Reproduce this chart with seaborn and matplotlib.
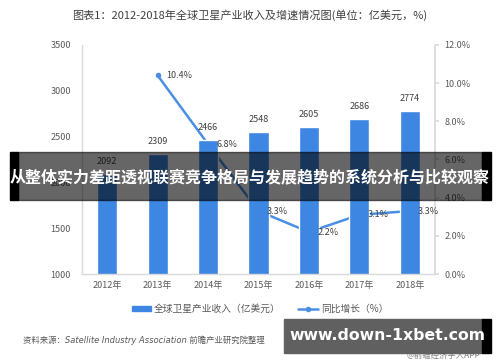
import numpy as np
import pandas as pd
import matplotlib
matplotlib.use('Agg')
import matplotlib.pyplot as plt
from matplotlib.patches import Rectangle
from matplotlib.lines import Line2D
import seaborn as sns

# --- dati ---
years = ['2012年', '2013年', '2014年', '2015年', '2016年', '2017年', '2018年']
revenue = [2092, 2309, 2466, 2548, 2605, 2686, 2774]
growth = [np.nan, 10.4, 6.8, 3.3, 2.2, 3.1, 3.3]
left_ticks = [1000, 1500, 2000, 2500, 3000, 3500]
right_ticks = [0, 2, 4, 6, 8, 10, 12]

title = '图表1：2012-2018年全球卫星产业收入及增速情况图(单位：亿美元，%)'
banner = '从整体实力差距透视联赛竞争格局与发展趋势的系统分析与比较观察'
bar_label = '全球卫星产业收入（亿美元）'
line_label = '同比增长（%）'
source = '资料来源：Satellite Industry Association 前瞻产业研究院整理'
site = 'www.down-1xbet.com'
credit = '@前瞻经济学人APP'

BAR_COL = '#3d86e1'
LINE_COL = '#4a8fe4'
TXT_COL = '#595959'
GRID_COL = '#d9d9d9'

sns.set_theme(style='white')
plt.rcParams['font.family'] = ['Noto Sans CJK SC', 'DejaVu Sans']

df = pd.DataFrame({'year': years, 'revenue': revenue, 'growth': growth})
df['pos'] = np.arange(len(df))

fig = plt.figure(figsize=(5, 3.62), dpi=100)
ax = fig.add_axes([0.164, 0.243, 0.706, 0.633])
ax2 = ax.twinx()

# la linea sta sotto le barre (come nell'originale)
ax.set_zorder(ax2.get_zorder() + 1)
ax.patch.set_visible(False)

sns.barplot(data=df, x='year', y='revenue', color=BAR_COL, width=0.4,
            saturation=1, ax=ax)
ax.set_ylim(1000, 3500)
ax.set_xlim(-0.5, len(df) - 0.5)
ax.set_yticks(left_ticks)
ax.set_xlabel('')
ax.set_ylabel('')
ax.tick_params(axis='both', labelsize=6.5, colors=TXT_COL, length=0, pad=8)
ax.tick_params(axis='x', pad=5)
for s in ['top', 'right']:
    ax.spines[s].set_visible(False)
for s in ['left', 'bottom']:
    ax.spines[s].set_color(GRID_COL)
    ax.spines[s].set_linewidth(1)

for p, v in zip(df['pos'], df['revenue']):
    ax.annotate(f'{v}', (p, v), xytext=(0, 9), textcoords='offset points',
                ha='center', va='center', fontsize=6.5, color='#404040')

g = df.dropna(subset=['growth'])
sns.lineplot(data=g, x='pos', y='growth', color=LINE_COL, linewidth=1.8,
             marker='o', markersize=4, markeredgewidth=0, ax=ax2)
ax2.set_ylim(0, 12)
ax2.set_yticks(right_ticks)
ax2.set_yticklabels([f'{t:.1f}%' for t in right_ticks])
ax2.set_ylabel('')
ax2.set_xlabel('')
ax2.tick_params(axis='y', labelsize=6.5, colors=TXT_COL, length=3,
                color=GRID_COL, pad=4)
for s in ['top', 'left', 'bottom']:
    ax2.spines[s].set_visible(False)
ax2.spines['right'].set_color(GRID_COL)
for p, v in zip(g['pos'], g['growth']):
    ax.annotate(f'{v:.1f}%', (p, v), xycoords=ax2.transData, xytext=(6, 0),
                textcoords='offset points', ha='left', va='center',
                fontsize=6.5, color='#404040')

fig.text(0.5, 0.957, title, ha='center', va='center', fontsize=8, color='#404040')

handles = [Rectangle((0, 0), 1, 1, color=BAR_COL),
           Line2D([0], [0], color=LINE_COL, lw=1.8, marker='o', markersize=3)]
fig.legend(handles, [bar_label, line_label], loc='center', ncol=2,
           bbox_to_anchor=(0.52, 0.147), frameon=False, fontsize=7,
           labelcolor=TXT_COL, handlelength=2.0, handleheight=0.5,
           columnspacing=1.8, handletextpad=0.3)

fig.text(0.046, 0.06, source, ha='left', va='center', fontsize=6,
         color='#595959', style='italic',
         family=['DejaVu Sans', 'Noto Sans CJK SC'])

# banner overlay
fig.patches.append(Rectangle((18 / 500, 1 - 200 / 362), 464 / 500, 48 / 362,
                             transform=fig.transFigure, color='black',
                             alpha=0.6, zorder=5))
fig.patches.append(Rectangle((10 / 500, 1 - 200 / 362), 8 / 500, 48 / 362,
                             transform=fig.transFigure, color='black', zorder=5))
fig.patches.append(Rectangle((482 / 500, 1 - 200 / 362), 9 / 500, 48 / 362,
                             transform=fig.transFigure, color='black', zorder=5))
fig.text(0.5, 1 - 177 / 362, banner, ha='center', va='center', fontsize=11.5,
         color='white', fontweight='bold', zorder=6)

fig.text(0.96, 1 - 355 / 362, credit, ha='right', va='center', fontsize=6,
         color='#808080')
fig.patches.append(Rectangle((284 / 500, 1 - 353 / 362), 198 / 500, 34 / 362,
                             transform=fig.transFigure, color='#606060', zorder=5))
fig.patches.append(Rectangle((482 / 500, 1 - 353 / 362), 9 / 500, 34 / 362,
                             transform=fig.transFigure, color='black', zorder=5))
fig.text(387 / 500, 1 - 336 / 362, site, ha='center', va='center', fontsize=11.3,
         color='white', fontweight='bold', family='DejaVu Sans', zorder=6)

fig.savefig('out.png', dpi=100)
